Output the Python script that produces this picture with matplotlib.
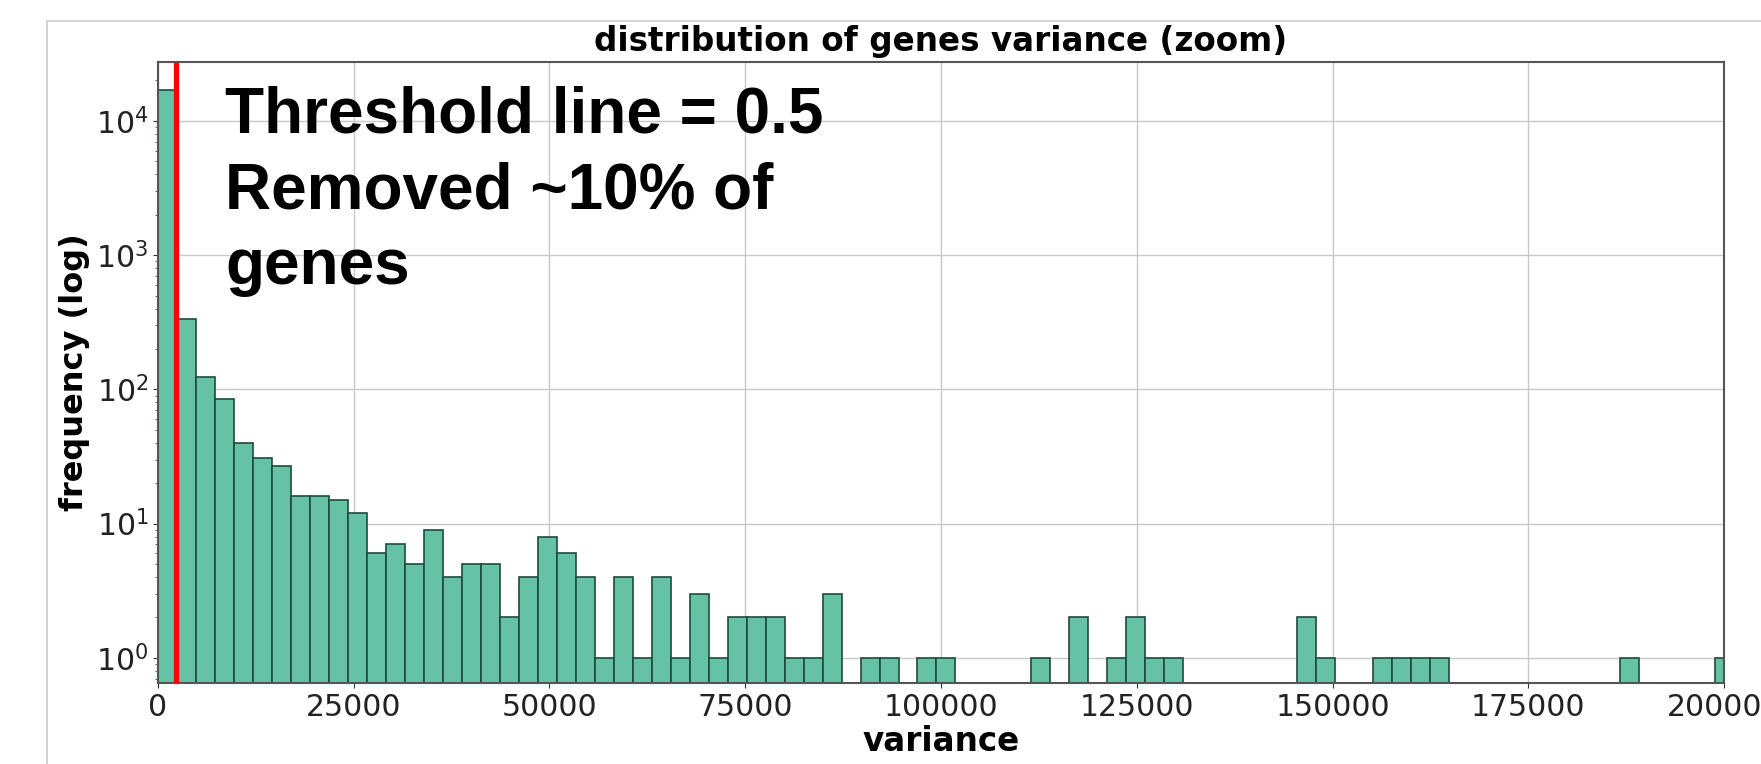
import matplotlib.pyplot as plt
import numpy as np
from matplotlib.patches import Rectangle

# histogram of gene variance, bins of equal width starting at 0
bin_width = 2425
counts = [
	16900, 334, 124, 85, 40, 31, 27, 16, 16, 15,
	12, 6, 7, 5, 9, 4, 5, 5, 2, 4,
	8, 6, 4, 1, 4, 1, 4, 1, 3, 1,
	2, 2, 2, 1, 1, 3, 0, 1, 1, 0,
	1, 1, 0, 0, 0, 0, 1, 0, 2, 0,
	1, 2, 1, 1, 0, 0, 0, 0, 0, 0,
	2, 1, 0, 0, 1, 1, 1, 1, 0, 0,
	0, 0, 0, 0, 0, 0, 0, 1, 0, 0,
	0, 0, 1,
]
threshold_x = 2300
x_ticks = [0, 25000, 50000, 75000, 100000, 125000, 150000, 175000, 200000]
title = "distribution of genes variance (zoom)"
note = "Threshold line = 0.5\nRemoved ~10% of\ngenes"


def _plot_variance_hist() -> None:
	fig = plt.figure(figsize=(17.61, 7.64), dpi=100)
	ax = fig.add_axes([0.0897, 0.106, 0.8893, 0.813])

	counts_arr = np.asarray(counts, dtype=float)
	left_edges = np.arange(counts_arr.size) * bin_width
	keep = counts_arr > 0
	ax.bar(
		left_edges[keep],
		counts_arr[keep],
		width=bin_width,
		bottom=1e-3,
		align="edge",
		color="#66c2a5",
		edgecolor="#1f4a3c",
		linewidth=1.2,
		zorder=2,
	)
	ax.set_yscale("log")
	ax.set_xlim(0, 200000)
	ax.set_ylim(0.65, 27500)
	ax.set_xticks(x_ticks)

	ax.axvline(threshold_x, ymin=0, ymax=0.995, color="#ff0000", linewidth=3.8, zorder=3)

	ax.grid(True, which="major", color="#c8c8c8", linewidth=1.0, zorder=0)
	ax.set_axisbelow(True)
	for spine in ax.spines.values():
		spine.set_color("#555555")
		spine.set_linewidth(1.5)
	ax.tick_params(axis="both", which="major", labelsize=21.5, colors="#333333", labelcolor="#222222")
	ax.tick_params(axis="y", which="minor", colors="#555555")

	ax.set_title(title, fontsize=23.5, fontweight="bold", pad=8)
	ax.set_xlabel("variance", fontsize=23.5, fontweight="bold", labelpad=2)
	ax.set_ylabel("frequency (log)", fontsize=23, fontweight="bold", labelpad=4)

	fig.text(
		0.1278,
		0.888,
		note,
		fontsize=46,
		fontweight="bold",
		family="Liberation Sans",
		color="black",
		ha="left",
		va="top",
		linespacing=1.33,
	)

	# light frame around the pasted figure
	fig.patches.append(
		Rectangle(
			(0.0267, -0.2),
			1.2,
			0.9725 + 0.2,
			transform=fig.transFigure,
			fill=False,
			edgecolor="#d4d4d4",
			linewidth=1.5,
		)
	)

	fig.savefig("out.png", dpi=100)
	plt.close(fig)


if __name__ == "__main__":
	_plot_variance_hist()
